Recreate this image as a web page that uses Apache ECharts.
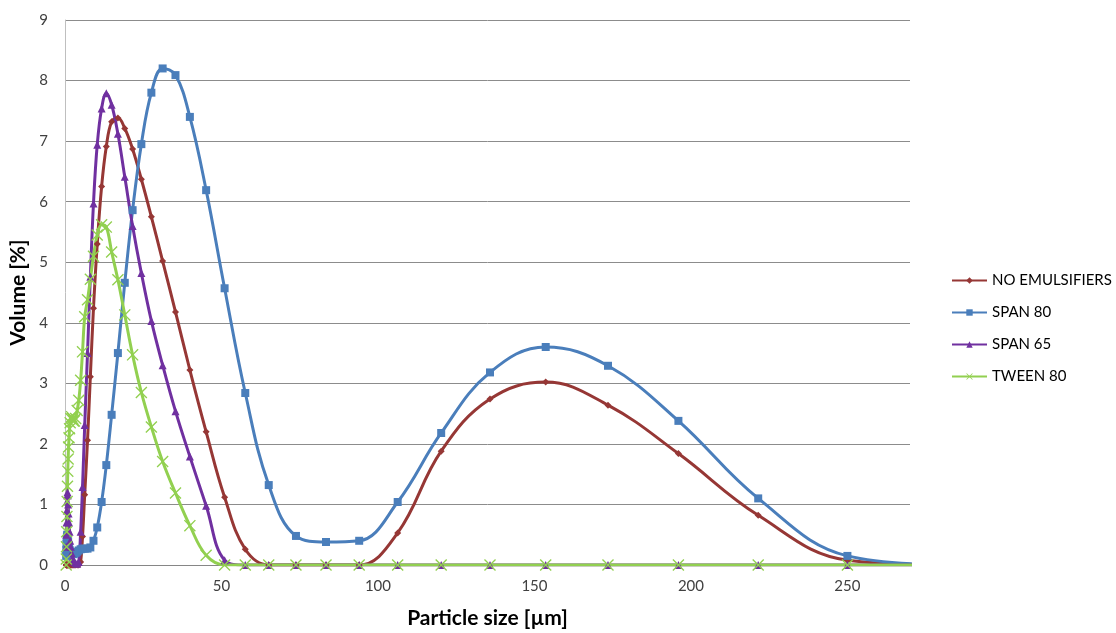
<!DOCTYPE html>
<html>
<head>
<meta charset="utf-8">
<script src="https://cdn.jsdelivr.net/npm/echarts@6/dist/echarts.min.js"></script>
<style>
  html, body { margin: 0; padding: 0; background: #ffffff; }
  #chart { width: 1116px; height: 633px; }
</style>
</head>
<body>
<div id="chart"></div>
<script>
// Particle size bins (µm)
const sizes = [0.38, 0.43, 0.48, 0.55, 0.62, 0.7, 0.79, 0.89, 1.0, 1.14, 1.29, 1.46, 1.65, 1.86, 2.1, 2.4, 2.7, 3.0, 3.4, 3.9,
  4.4, 5.0, 5.6, 6.3, 7.2, 8.1, 9.1, 10.3, 11.7, 13.2, 14.9, 16.9, 19.1, 21.6, 24.4, 27.6, 31.2, 35.3, 39.9, 45.1,
  51, 57.6, 65.1, 73.8, 83.4, 94, 106.3, 120.2, 135.8, 153.6, 173.5, 196, 221.5, 250, 282];

const noEmulsifiers = [0, 0, 0, 0, 0, 0, 0, 0, 0, 0, 0, 0, 0, 0, 0, 0, 0, 0, 0, 0,
  0, 0.05, 0.47, 1.16, 2.06, 3.11, 4.24, 5.3, 6.25, 6.91, 7.32, 7.38, 7.21, 6.87, 6.37, 5.75, 5.02, 4.18, 3.22, 2.2,
  1.12, 0.26, 0, 0, 0, 0, 0.53, 1.88, 2.74, 3.02, 2.64, 1.84, 0.82, 0.08, 0];

const span80 = [0.15, 0.25, 0.35, 0.42, 0.47, 0.5, 0.48, 0.44, 0.38, 0.33, 0.28, 0.25, 0.22, 0.2, 0.19, 0.18, 0.18, 0.19, 0.2, 0.22,
  0.24, 0.26, 0.27, 0.27, 0.27, 0.29, 0.4, 0.62, 1.04, 1.65, 2.48, 3.5, 4.66, 5.86, 6.95, 7.8, 8.2, 8.09, 7.4, 6.19,
  4.57, 2.84, 1.32, 0.48, 0.38, 0.4, 1.04, 2.18, 3.18, 3.6, 3.29, 2.38, 1.1, 0.15, 0];

const span65 = [0.3, 0.5, 0.7, 0.9, 1.05, 1.15, 1.2, 1.15, 1.0, 0.85, 0.7, 0.55, 0.4, 0.3, 0.2, 0.12, 0.08, 0.05, 0.03, 0.02,
  0.05, 0.55, 1.29, 2.31, 3.5, 4.76, 5.97, 6.94, 7.54, 7.79, 7.6, 7.12, 6.41, 5.6, 4.82, 4.03, 3.3, 2.54, 1.79, 0.98,
  0.08, 0, 0, 0, 0, 0, 0, 0, 0, 0, 0, 0, 0, 0, 0];

const tween80 = [0, 0.1, 0.3, 0.55, 0.8, 1.05, 1.3, 1.55, 1.75, 1.95, 2.1, 2.25, 2.35, 2.42, 2.45, 2.42, 2.38, 2.38, 2.42, 2.55,
  2.72, 3.05, 3.52, 4.1, 4.38, 4.72, 5.1, 5.45, 5.62, 5.58, 5.17, 4.71, 4.13, 3.47, 2.85, 2.28, 1.71, 1.19, 0.65, 0.16,
  0, 0, 0, 0, 0, 0, 0, 0, 0, 0, 0, 0, 0, 0, 0];

const seriesNames = ['NO EMULSIFIERS', 'SPAN 80', 'SPAN 65', 'TWEEN 80'];
const xTicks = [0, 50, 100, 150, 200, 250];

const FONT = 'Lato, "Open Sans", sans-serif';
const crossPath = 'path://M0,0.8 L0.8,0 L5,4.2 L9.2,0 L10,0.8 L5.8,5 L10,9.2 L9.2,10 L5,5.8 L0.8,10 L0,9.2 L4.2,5 Z';

function pairs(values) { return sizes.map((s, i) => [s, values[i]]); }

function mk(name, values, color, symbol, size) {
  return {
    name: name,
    type: 'line',
    data: pairs(values),
    smooth: 0.4,
    symbol: symbol,
    symbolSize: size,
    showSymbol: true,
    clip: true,
    lineStyle: { color: color, width: 3 },
    itemStyle: { color: color },
    emphasis: { disabled: true }
  };
}

const chart = echarts.init(document.getElementById('chart'), null, { renderer: 'canvas' });
chart.setOption({
  animation: false,
  backgroundColor: '#ffffff',
  grid: { left: 65, right: 206, top: 20, bottom: 68, containLabel: false, outerBoundsMode: 'none' },
  legend: {
    orient: 'vertical',
    left: 946,
    top: 268,
    itemWidth: 35,
    itemHeight: 8,
    itemGap: 17,
    data: seriesNames,
    textStyle: { fontFamily: FONT, fontSize: 15, color: '#000000' }
  },
  xAxis: {
    type: 'value',
    min: 0,
    max: 270,
    interval: 50,
    name: 'Particle size [µm]',
    nameLocation: 'middle',
    nameGap: 43,
    nameTextStyle: { fontFamily: FONT, fontSize: 21, fontWeight: 'bold', color: '#000000' },
    axisLine: { show: true, lineStyle: { color: '#868686', width: 1 } },
    axisTick: { show: false },
    splitLine: { show: false },
    axisLabel: {
      fontFamily: FONT, fontSize: 15, color: '#404040', margin: 14,
      showMaxLabel: false,
      formatter: function (v) { return xTicks.indexOf(v) >= 0 ? String(v) : ''; }
    }
  },
  yAxis: {
    type: 'value',
    min: 0,
    max: 9,
    interval: 1,
    name: 'Volume [%]',
    nameLocation: 'middle',
    nameGap: 32,
    nameTextStyle: { fontFamily: FONT, fontSize: 21, fontWeight: 'bold', color: '#000000' },
    axisLine: { show: true, lineStyle: { color: '#BFBFBF', width: 1 } },
    axisTick: { show: false },
    splitLine: { show: true, lineStyle: { color: '#8C8C8C', width: 1 } },
    axisLabel: { fontFamily: FONT, fontSize: 15, color: '#404040', margin: 17 }
  },
  series: [
    mk(seriesNames[0], noEmulsifiers, '#963735', 'diamond', 7),
    mk(seriesNames[1], span80, '#4A7EBB', 'rect', 8),
    mk(seriesNames[2], span65, '#7030A0', 'triangle', 8),
    mk(seriesNames[3], tween80, '#92D050', crossPath, 12)
  ]
});
</script>
</body>
</html>
